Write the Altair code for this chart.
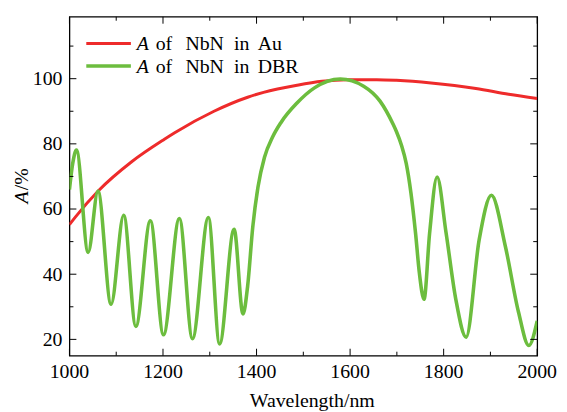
import altair as alt
import pandas as pd

# ---- data ----
au_wl = [1000, 1013, 1062, 1133, 1203, 1225, 1309, 1381, 1415, 1487, 1540, 1593, 1657, 1699, 1773, 1869, 1939, 2000]
au_val = [55.2, 57.6, 65.6, 74.5, 81.4, 83.4, 90.0, 94.3, 95.8, 98.0, 99.2, 99.7, 99.7, 99.5, 98.7, 97.0, 95.2, 93.9]

dbr_wl = [1000, 1007, 1015, 1040, 1061, 1089, 1116, 1142, 1173, 1201, 1235, 1263, 1297, 1321,
          1352, 1371, 1381, 1392, 1403, 1417, 1434, 1452, 1487, 1523, 1579, 1629, 1664, 1692,
          1699, 1710, 1720, 1730, 1740, 1748, 1758, 1770, 1786, 1805, 1826, 1848, 1876, 1902,
          1932, 1960, 1982, 2000]
dbr_val = [66.0, 74.0, 78.1, 46.7, 65.5, 30.8, 58.1, 24.0, 56.4, 21.4, 57.1, 20.2, 57.4, 18.6,
           53.8, 27.8, 36.4, 54.6, 66.7, 75.9, 82.0, 86.5, 92.6, 97.1, 99.9, 97.7, 93.1, 86.0,
           83.8, 79.5, 74.0, 65.0, 52.5, 40.5, 32.3, 52.6, 69.8, 52.9, 32.3, 20.7, 50.6, 64.2,
           48.5, 28.4, 18.1, 25.7]

series_names = ["A of NbN in Au", "A of NbN in DBR"]
x_major = [1000, 1200, 1400, 1600, 1800, 2000]
x_minor = [1100, 1300, 1500, 1700, 1900]
y_major = [20, 40, 60, 80, 100]
y_minor = [30, 50, 70, 90, 110]

# ---- styling ----
W, H = 472, 342
FONT = "Liberation Serif"
FS = 20
RED = "#ee2b2b"
GREEN = "#6cbd3e"

xscale = alt.Scale(domain=[1000, 2000], nice=False, zero=False)
yscale = alt.Scale(domain=[15, 119], nice=False, zero=False)

df = pd.concat([
    pd.DataFrame({"wl": au_wl, "val": au_val, "series": series_names[0]}),
    pd.DataFrame({"wl": dbr_wl, "val": dbr_val, "series": series_names[1]}),
])

lines = alt.Chart(df).mark_line(interpolate="monotone", clip=True).encode(
    x=alt.X("wl:Q", scale=xscale, axis=None),
    y=alt.Y("val:Q", scale=yscale, axis=None),
    color=alt.Color("series:N", scale=alt.Scale(domain=series_names, range=[RED, GREEN]), legend=None),
    strokeWidth=alt.StrokeWidth("series:N", scale=alt.Scale(domain=series_names, range=[3, 3.6]), legend=None),
    order=alt.Order("wl:Q"),
)


def xticks(vals, length):
    d = pd.DataFrame({"v": vals})
    bot = alt.Chart(d).mark_rule(color="black", strokeWidth=1).encode(
        x=alt.X("v:Q", scale=xscale, axis=None), y=alt.value(H), y2=alt.value(H - length))
    top = alt.Chart(d).mark_rule(color="black", strokeWidth=1).encode(
        x=alt.X("v:Q", scale=xscale, axis=None), y=alt.value(0), y2=alt.value(length))
    return [bot, top]


def yticks(vals, length):
    d = pd.DataFrame({"v": vals})
    left = alt.Chart(d).mark_rule(color="black", strokeWidth=1).encode(
        y=alt.Y("v:Q", scale=yscale, axis=None), x=alt.value(0), x2=alt.value(length))
    right = alt.Chart(d).mark_rule(color="black", strokeWidth=1).encode(
        y=alt.Y("v:Q", scale=yscale, axis=None), x=alt.value(W), x2=alt.value(W - length))
    return [left, right]


x_labels = alt.Chart(pd.DataFrame({"v": x_major})).mark_text(
    font=FONT, fontSize=FS, color="black", align="center", baseline="alphabetic").encode(
    x=alt.X("v:Q", scale=xscale, axis=None), y=alt.value(H + 23), text=alt.Text("v:Q", format="d"))

y_labels = alt.Chart(pd.DataFrame({"v": y_major})).mark_text(
    font=FONT, fontSize=FS, color="black", align="right", baseline="alphabetic", dy=6.5).encode(
    y=alt.Y("v:Q", scale=yscale, axis=None), x=alt.value(-7), text=alt.Text("v:Q", format="d"))


def txt(s, x, y, italic=False, angle=None, align="left"):
    kw = dict(font=FONT, fontSize=FS, color="black", align=align, baseline="alphabetic",
              fontStyle="italic" if italic else "normal")
    if angle is not None:
        kw["angle"] = angle
    return alt.Chart(pd.DataFrame({"t": [s]})).mark_text(**kw).encode(
        x=alt.value(x), y=alt.value(y), text="t:N")


def legend_line(color, y, sw):
    return alt.Chart(pd.DataFrame({"t": [0]})).mark_rule(color=color, strokeWidth=sw).encode(
        x=alt.value(17), x2=alt.value(62), y=alt.value(y))


legend = [
    legend_line(RED, 27, 3), legend_line(GREEN, 49.7, 3.6),
    txt("A", 68, 33.7, italic=True), txt("of", 87, 33.7), txt("NbN", 117, 33.7),
    txt("in", 166, 33.7), txt("Au", 190, 33.7),
    txt("A", 68, 56.3, italic=True), txt("of", 87, 56.3), txt("NbN", 117, 56.3),
    txt("in", 166, 56.3), txt("DBR", 190, 56.3),
]

titles = [
    txt("Wavelength/nm", 245, 394, align="center"),
    txt("A", -42, 188.5, italic=True, angle=270),
    txt("/%", -42, 175, angle=270),
]

layers = ([lines] + xticks(x_major, 7) + xticks(x_minor, 4) + yticks(y_major, 7) + yticks(y_minor, 4)
          + [x_labels, y_labels] + legend + titles)

chart = alt.layer(*layers).properties(
    width=W, height=H,
    autosize=alt.AutoSizeParams(type="none"),
    padding={"left": 62, "top": 7, "right": 22, "bottom": 55},
    background="white",
).configure_view(stroke="black", strokeWidth=1.3)

chart.save("out.html", embed_options={"renderer": "svg", "actions": False})
